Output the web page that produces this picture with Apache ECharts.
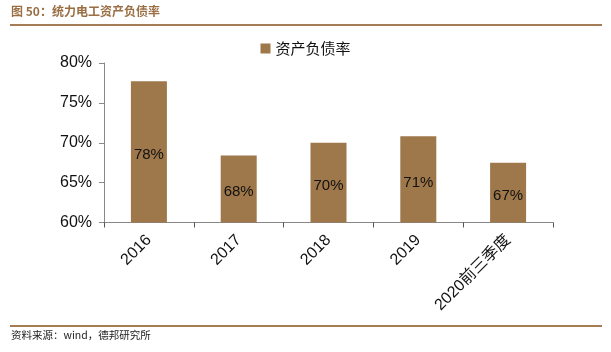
<!DOCTYPE html>
<html><head><meta charset="utf-8">
<script src="https://cdn.jsdelivr.net/npm/echarts@6/dist/echarts.min.js"></script>
<style>html,body{margin:0;padding:0;background:#fff}#c{width:611px;height:352px}</style>
</head><body><div id="c"></div>
<script>
var categories = ['2016','2017','2018','2019','2020前三季度'];
var debtRatio = [77.7, 68.4, 70.0, 70.8, 67.5];
var labels = ['78%','68%','70%','71%','67%'];
var seriesName = '资产负债率';
var titleText = '图 50：统力电工资产负债率';
var sourceText = '资料来源：wind，德邦研究所';

var chart = echarts.init(document.getElementById('c'));
var brown = '#9E774A';
chart.setOption({
  animation: false,
  textStyle: {fontFamily: 'Liberation Sans, Noto Sans CJK SC'},
  graphic: [
    {type:'text', left:11, top:5, style:{text:titleText, font:'bold 12px "Noto Sans CJK SC"', fill:'#9A6F45'}},
    {type:'rect', shape:{x:10, y:24, width:592, height:2}, style:{fill:'#A47C55'}},
    {type:'rect', shape:{x:10, y:325, width:592, height:2}, style:{fill:'#A47C55'}},
    {type:'text', left:11, top:330, style:{text:sourceText, font:'10.5px "Noto Sans CJK SC"', fill:'#222'}}
  ],
  legend: {
    top: 36, left: 'center', itemWidth: 10, itemHeight: 10, icon: 'rect',
    textStyle: {fontSize: 15, color: '#111', fontFamily: 'Noto Sans CJK SC'},
    data: [seriesName]
  },
  grid: {left:104, right:58, top:63, bottom:129.5, containLabel:false},
  xAxis: {
    type:'category', data: categories,
    axisLine:{lineStyle:{color:'#888'}},
    axisTick:{show:true, lineStyle:{color:'#555'}, length:5},
    axisLabel:{rotate:45, fontSize:16, color:'#111', margin:15, fontFamily:'Liberation Sans, Noto Sans CJK SC'}
  },
  yAxis: {
    type:'value', min:60, max:80, interval:5,
    axisLine:{show:true, lineStyle:{color:'#888'}},
    axisTick:{show:true, inside:false, length:5, lineStyle:{color:'#888'}},
    splitLine:{show:false},
    axisLabel:{formatter:'{value}%', fontSize:16, color:'#111', margin:12}
  },
  series: [{
    name: seriesName, type:'bar', data: debtRatio, barWidth: 36,
    itemStyle:{color: brown},
    label:{show:true, position:'inside', fontSize:15, color:'#111', offset:[0,3],
      formatter: function(p){return labels[p.dataIndex];}}
  }]
});
</script></body></html>
